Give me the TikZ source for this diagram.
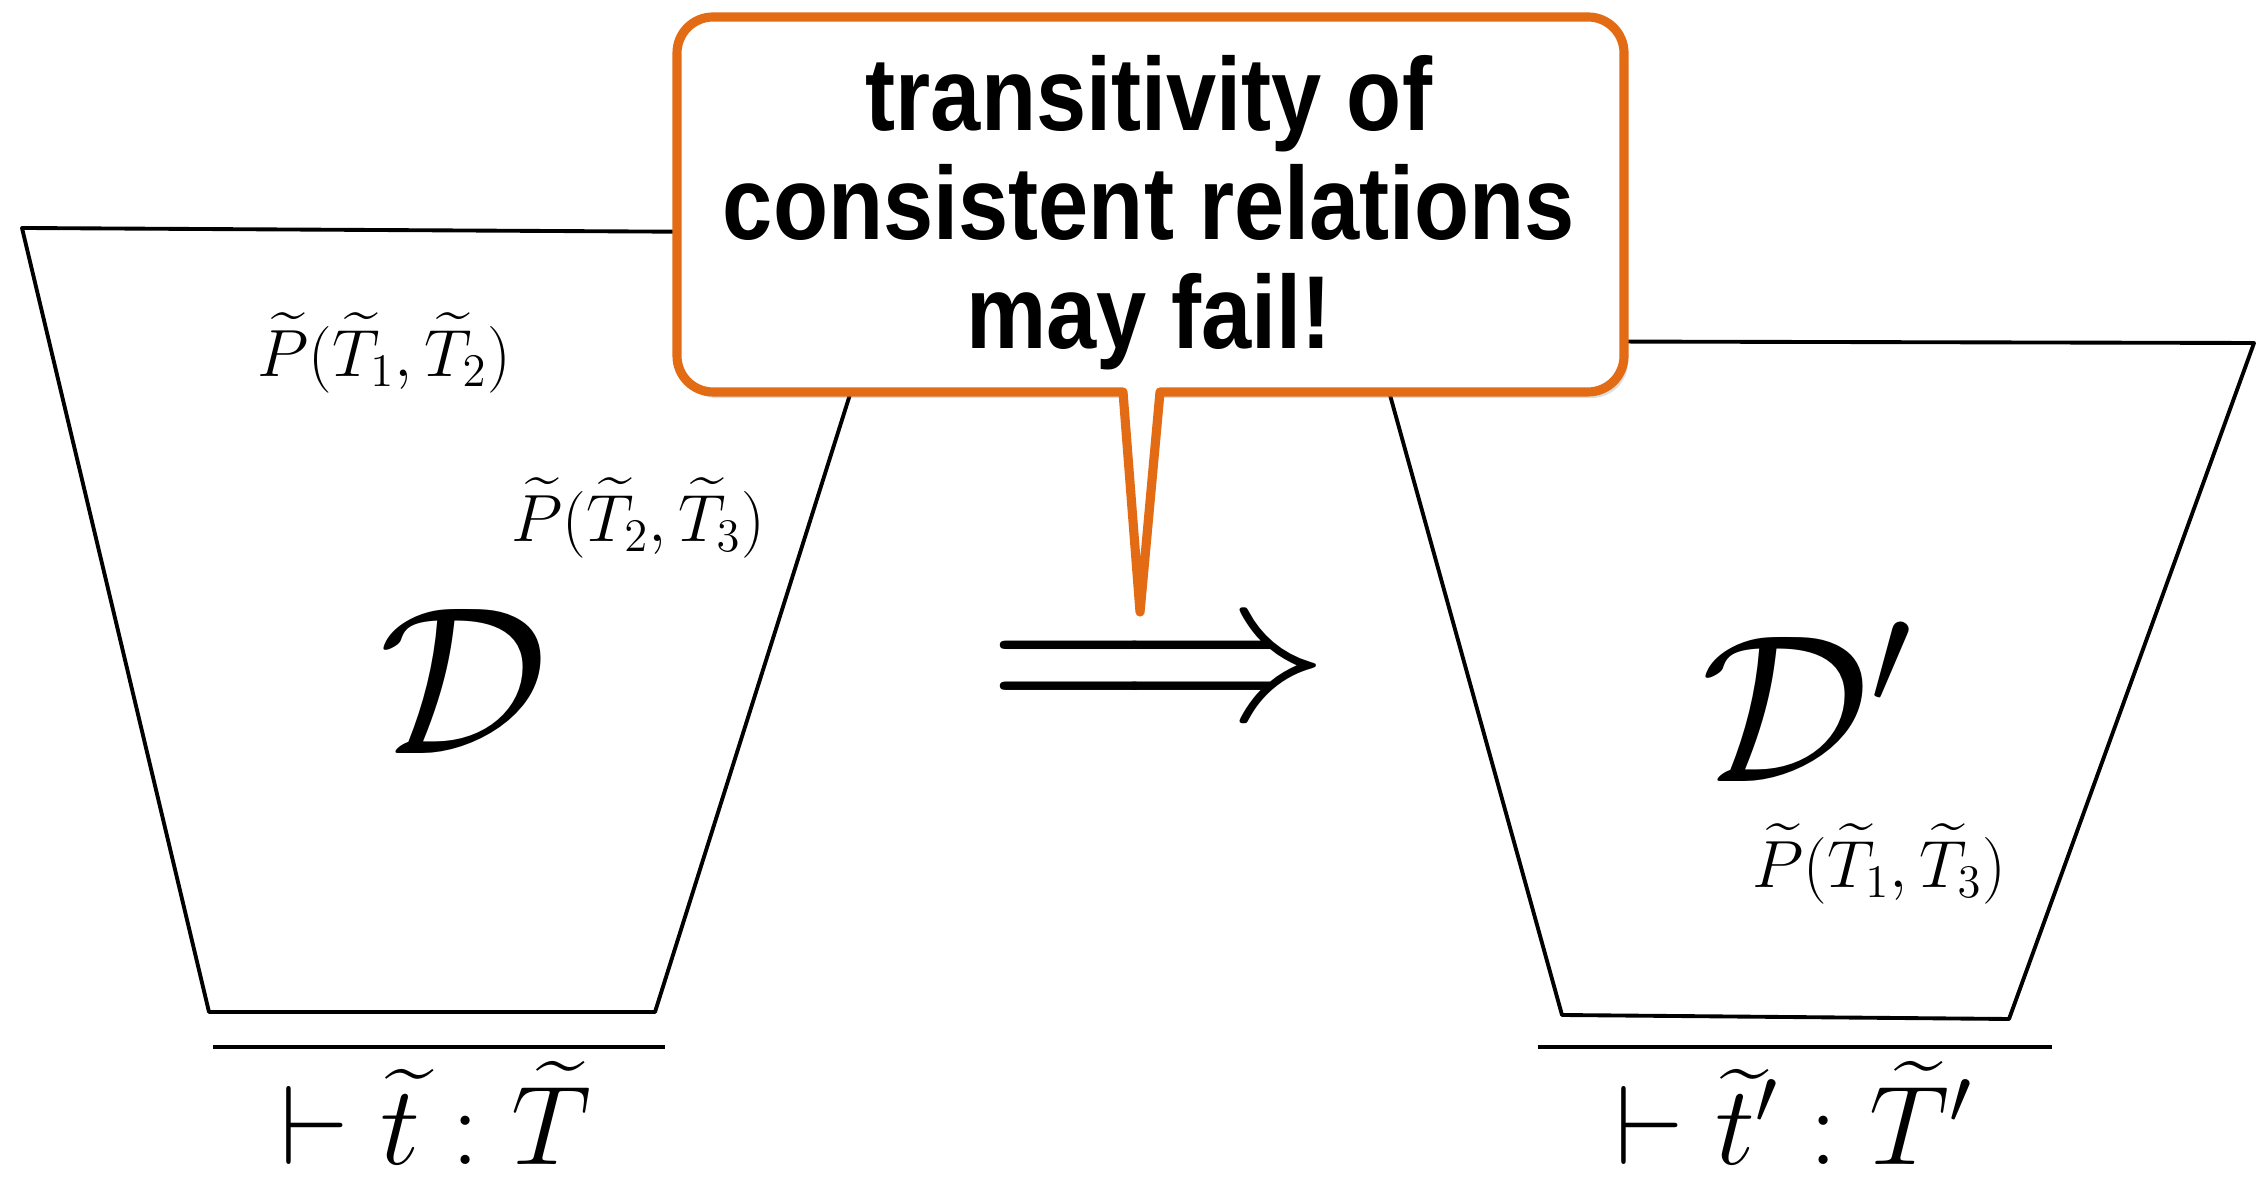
\RequirePackage{fix-cm}
\documentclass[tikz,border=0pt]{standalone}
\usepackage{amsmath}
\usepackage{graphicx}
\usepackage{fontspec}
\usepackage{tikz}
\usepackage{xcolor}
\usetikzlibrary{shadows}
\newfontfamily\bubblefont{Liberation Sans}[FakeStretch=0.87]
\definecolor{Tangerine}{HTML}{E26B14}

\begin{document}
\begin{tikzpicture}[
  frame/.style={draw=black,line width=1.1pt,line join=round},
  rule/.style={draw=black,line width=1.3pt},
  judg/.style={inner sep=0pt,font=\fontsize{32}{38}\selectfont},
  rel/.style={inner sep=0pt,font=\fontsize{19}{22}\selectfont},
  deriv/.style={inner sep=0pt,font=\fontsize{60}{66}\selectfont},
  bubble/.style={draw=Tangerine,fill=white,line width=2.6pt,line join=round,drop shadow={opacity=0.25,shadow xshift=0.04cm,shadow yshift=-0.06cm}},
  bubbletext/.style={inner sep=0pt,align=center,font=\bubblefont\bfseries\fontsize{29.5}{31}\selectfont}
]
\useasboundingbox (0,0) rectangle (22.58,11.81);
% left derivation
\draw[frame] (0.22,9.53) -- (9.01,9.48) -- (6.55,1.69) -- (2.09,1.69) -- cycle;
\node[rel] (p12) at (3.84,8.28) {$\widetilde{P}(\widetilde{T}_1,\widetilde{T}_2)$};
\node[rel] (p23) at (6.38,6.63) {$\widetilde{P}(\widetilde{T}_2,\widetilde{T}_3)$};
\node[deriv] (d) at (4.64,5.00) {$\mathcal{D}$};
\draw[rule] (2.13,1.34) -- (6.65,1.34);
\node[judg] (j) at (4.36,0.68) {$\vdash \widetilde{t} : \widetilde{T}$};
% right derivation
\draw[frame] (13.75,8.40) -- (22.54,8.38) -- (20.09,1.62) -- (15.62,1.66) -- cycle;
\node[deriv] (dd) at (18.07,4.79) {$\mathcal{D}'$};
\node[rel] (p13) at (18.79,3.17) {$\widetilde{P}(\widetilde{T}_1,\widetilde{T}_3)$};
\draw[rule] (15.38,1.34) -- (20.52,1.34);
\node[judg] (jj) at (17.94,0.68) {$\vdash \widetilde{t}' : \widetilde{T}'$};
% implication
\node[inner sep=0pt] (imp) at (11.58,5.01) {\scalebox{6}{$\Longrightarrow$}};
% callout
\draw[bubble] (11.60,7.89) -- (15.88,7.89) arc[start angle=-90,end angle=0,radius=0.36]
  -- (16.24,11.28) arc[start angle=0,end angle=90,radius=0.36]
  -- (7.13,11.64) arc[start angle=90,end angle=180,radius=0.36]
  -- (6.77,8.25) arc[start angle=180,end angle=270,radius=0.36]
  -- (11.23,7.89) -- (11.40,5.69) -- cycle;
\node[bubbletext] (warn) at (11.49,9.68) {transitivity of\\consistent relations\\may fail!};
\end{tikzpicture}
\end{document}
